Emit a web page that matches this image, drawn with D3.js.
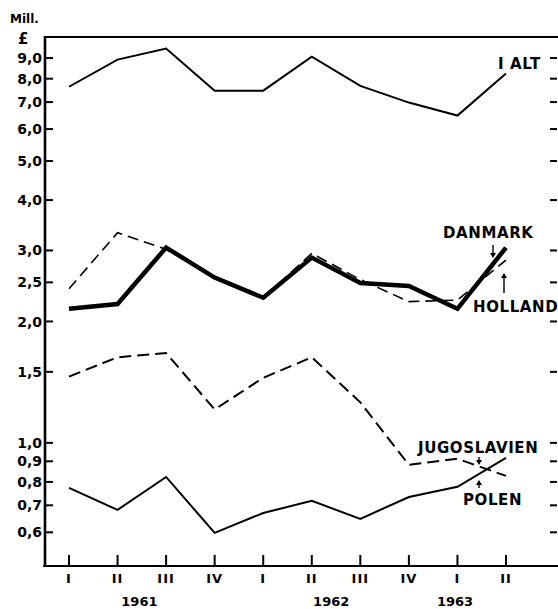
<!DOCTYPE html>
<html><head><meta charset="utf-8">
<script src="https://cdn.jsdelivr.net/npm/d3@7"></script>
<style>
html,body{margin:0;padding:0;background:#fff;}
svg text{font-family:"DejaVu Sans",sans-serif;font-weight:bold;fill:#000;}
</style></head>
<body><svg id="c" width="558" height="609"></svg>
<script>
// ---- data ----
const quarters = ["I","II","III","IV","I","II","III","IV","I","II"];
const years = ["1961","1962","1963"];
const yTicks = [0.6,0.7,0.8,0.9,1.0,1.5,2.0,2.5,3.0,4.0,5.0,6.0,7.0,8.0,9.0];
const iAlt        = [7.64,8.92,9.50,7.47,7.47,9.07,7.68,6.98,6.48,8.24];
const danmark     = [2.15,2.21,3.05,2.57,2.29,2.88,2.49,2.45,2.15,3.05];
const holland     = [2.41,3.32,3.02,2.57,2.29,2.95,2.54,2.24,2.26,2.84];
const jugoslavien = [1.46,1.63,1.67,1.21,1.45,1.63,1.26,0.882,0.913,0.828];
const polen       = [0.773,0.682,0.823,0.598,0.67,0.718,0.648,0.734,0.778,0.918];

const svg = d3.select("#c");
const L = 45, R = 557, T = 37, B = 566;
const x = d3.scaleLinear().domain([0, quarters.length-1]).range([69, 506]);
const y = d3.scaleLog().domain([0.495, 10.15]).range([B, T]);
const fmt = v => d3.format(".1f")(v).replace(".", ",");

// frame
svg.append("line").attr("x1",L).attr("x2",R+1).attr("y1",T).attr("y2",T).attr("stroke","#000").attr("stroke-width",2);
svg.append("line").attr("x1",L-2).attr("x2",R+1).attr("y1",B).attr("y2",B).attr("stroke","#000").attr("stroke-width",2.2);
svg.append("line").attr("x1",L).attr("x2",L).attr("y1",T-1).attr("y2",B+1).attr("stroke","#000").attr("stroke-width",2.6);

// left axis ticks + labels
const yl = svg.append("g");
yl.selectAll("line").data(yTicks).join("line")
  .attr("x1",L).attr("x2",L+8).attr("y1",d=>y(d)).attr("y2",d=>y(d))
  .attr("stroke","#000").attr("stroke-width",2);
yl.selectAll("text").data(yTicks).join("text")
  .attr("x",L-3).attr("y",d=>y(d)).attr("dy","0.36em").attr("text-anchor","end")
  .attr("font-size",14).text(fmt);
// right ticks
svg.append("g").selectAll("line").data(yTicks).join("line")
  .attr("x1",R-7).attr("x2",R).attr("y1",d=>y(d)).attr("y2",d=>y(d))
  .attr("stroke","#000").attr("stroke-width",2);

svg.append("text").attr("x",10).attr("y",23).attr("font-size",12).text("Mill.");
svg.append("text").attr("x",18).attr("y",44).attr("font-size",15).text("£");

// x ticks
const xg = svg.append("g");
xg.selectAll("line").data(quarters).join("line")
  .attr("x1",(d,i)=>x(i)).attr("x2",(d,i)=>x(i)).attr("y1",B-11).attr("y2",B)
  .attr("stroke","#000").attr("stroke-width",2);
xg.selectAll("text").data(quarters).join("text")
  .attr("x",(d,i)=>x(i)).attr("y",B+17).attr("text-anchor","middle")
  .attr("font-size",13).attr("letter-spacing",1).text(d=>d);
const yearPos = [1.45, 5.4, 7.95];
svg.append("g").selectAll("text").data(years).join("text")
  .attr("x",(d,i)=>x(yearPos[i])).attr("y",B+40).attr("text-anchor","middle")
  .attr("font-size",13).text(d=>d);

// lines
const line = d3.line().x((d,i)=>x(i)).y(d=>y(d));
function draw(data, w, dash){
  svg.append("path").datum(data).attr("d",line).attr("fill","none")
    .attr("stroke","#000").attr("stroke-width",w)
    .attr("stroke-linejoin","miter").attr("stroke-dasharray",dash||null);
}
draw(iAlt, 2);
draw(holland, 1.6, "11,6");
draw(danmark, 4.5);
draw(jugoslavien, 2, "12,6");
draw(polen, 2);

// labels
const labels = [
  {t:"I ALT", x:498, y:69},
  {t:"DANMARK", x:443, y:238},
  {t:"HOLLAND", x:473, y:312},
  {t:"JUGOSLAVIEN", x:418, y:453},
  {t:"POLEN", x:463, y:505}
];
svg.append("g").selectAll("text").data(labels).join("text")
  .attr("x",d=>d.x).attr("y",d=>d.y).attr("font-size",15).attr("letter-spacing",0.6).text(d=>d.t);

// arrows
const arrows = [
  {x:493, y1:245, y2:258},
  {x:504, y1:293, y2:273},
  {x:479, y1:457, y2:465},
  {x:479, y1:488, y2:480}
];
const ag = svg.append("g");
arrows.forEach(a=>{
  const dir = a.y2 > a.y1 ? 1 : -1;
  ag.append("line").attr("x1",a.x).attr("x2",a.x).attr("y1",a.y1).attr("y2",a.y2-dir*2)
    .attr("stroke","#000").attr("stroke-width",1.4);
  ag.append("path").attr("d",`M${a.x-3},${a.y2-dir*5}L${a.x+3},${a.y2-dir*5}L${a.x},${a.y2}Z`).attr("fill","#000");
});
</script></body></html>
